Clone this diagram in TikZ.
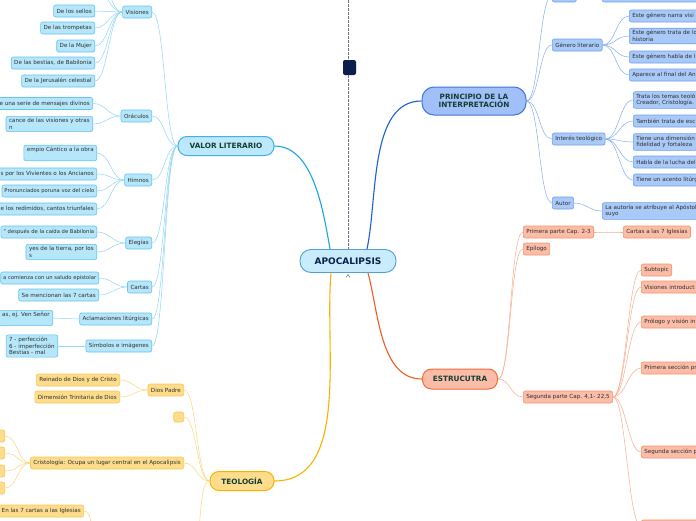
\documentclass[tikz,border=0pt]{standalone}
\usepackage{fontspec}
\setmainfont{DejaVu Sans}
\usetikzlibrary{calc}

\definecolor{vfill}{HTML}{B6E6FA}
\definecolor{vdraw}{HTML}{62C6EF}
\definecolor{vlinkc}{HTML}{92D7F4}
\definecolor{vmain}{HTML}{1CA4E6}
\definecolor{vtop}{HTML}{BDE8FB}
\definecolor{pfill}{HTML}{A9C9F8}
\definecolor{pdraw}{HTML}{6FA1EF}
\definecolor{plinkc}{HTML}{86AEF0}
\definecolor{pmain}{HTML}{1C60D2}
\definecolor{efill}{HTML}{FBBDA7}
\definecolor{edraw}{HTML}{F7926F}
\definecolor{elinkc}{HTML}{F9AC90}
\definecolor{emain}{HTML}{F25A26}
\definecolor{tfill}{HTML}{FDDC8C}
\definecolor{tdraw}{HTML}{F9C75A}
\definecolor{tlinkc}{HTML}{FBD57E}
\definecolor{tmain}{HTML}{F9B200}
\definecolor{topictext}{HTML}{123F31}
\definecolor{rootfill}{HTML}{C8ECFB}
\definecolor{rootdraw}{HTML}{4F9FD9}
\definecolor{roottext}{HTML}{0C1F4B}
\definecolor{leaftext}{HTML}{2E2E2E}
\definecolor{guide}{HTML}{6A7490}

\begin{document}
\begin{tikzpicture}[x=1pt, y=-1pt,
  leaf/.style={rounded corners=2pt, line width=0.6pt, font=\fontsize{5.6}{6.6}\selectfont,
    text=leaftext, inner xsep=3pt, inner ysep=2.2pt, minimum height=12pt, align=left},
  tight/.style={font=\fontsize{5.25}{6.4}\selectfont, inner xsep=2.5pt},
  vleaf/.style={leaf, fill=vfill, draw=vdraw},
  pleaf/.style={leaf, fill=pfill, draw=pdraw},
  eleaf/.style={leaf, fill=efill, draw=edraw},
  tleaf/.style={leaf, fill=tfill, draw=tdraw},
  topic/.style={rounded corners=9pt, line width=1pt, font=\fontsize{7.3}{8.4}\selectfont\bfseries,
    text=topictext, inner xsep=6pt, minimum height=19pt, align=center},
  root/.style={rounded corners=11pt, line width=0.9pt, fill=rootfill, draw=rootdraw,
    font=\fontsize{9}{10}\selectfont\bfseries, text=roottext, minimum width=96pt, minimum height=23pt},
  lleft/.style={line width=0.5pt, out=180, in=0, distance=13pt},
  lright/.style={line width=0.5pt, out=0, in=180, distance=13pt},
  vlink/.style={lleft, draw=vlinkc},
  plink/.style={lright, draw=plinkc},
  elink/.style={lright, draw=elinkc},
  tlink/.style={lleft, draw=tlinkc},
  mainlink/.style={line width=1.1pt}
]

\useasboundingbox (0,0) rectangle (696,520);
\fill[white] (0,0) rectangle (696,520);

% === ROOT ===
\node[root] (apo) at (348,261) {APOCALIPSIS};
\node[fill=roottext, rounded corners=2pt, minimum width=13pt, minimum height=15pt, inner sep=0pt] (pin) at (349.5,67.5) {};
\coordinate (top) at (348,0);
\draw[guide, line width=0.6pt, dash pattern=on 2.5pt off 1.5pt] (top) -- (top |- pin.north);
\draw[guide, line width=0.6pt, dash pattern=on 2.5pt off 1.5pt] (top |- pin.south) -- (top |- apo.north);
\draw[guide, line width=0.5pt] ($(apo.south)+(-2,4.5)$) -- ($(apo.south)+(0,1.5)$) -- ($(apo.south)+(2,4.5)$);

% === MAIN TOPICS ===
\node[topic, fill=vtop, draw=vmain!85, minimum width=96pt] (val) at (226,146) {VALOR LITERARIO};
\node[topic, fill=pfill!95!blue, draw=pmain!85, minimum width=104pt, minimum height=28pt, rounded corners=12pt] (pri) at (474,101) {PRINCIPIO DE LA\\INTERPRETACIÓN};
\node[topic, fill=efill, draw=emain!90, minimum width=75pt, minimum height=20pt] (est) at (460,379) {ESTRUCUTRA};
\node[topic, fill=tfill, draw=tmain, minimum width=64pt] (teo) at (242,481) {TEOLOGÍA};

\draw[mainlink, vmain] ($(apo.north)+(-18,0)$) to[out=100,in=0,looseness=0.85] (val.east);
\draw[mainlink, pmain] ($(apo.north)+(19,0)$) to[out=78,in=180,looseness=0.85] (pri.west);
\draw[mainlink, emain] ($(apo.south)+(20,0)$) to[out=-75,in=180,looseness=0.9] (est.west);
\draw[mainlink, tmain] ($(apo.south)+(-17,0)$) to[out=-95,in=0,looseness=0.9] (teo.east);

% === VALOR LITERARIO ===
\foreach \n/\y/\t in {vis/12/Visiones, ora/116/Oráculos, him/180/Himnos, ele/243/Elegías,
    car/287/Cartas, acl/319/Aclamaciones litúrgicas, sim/346/Símbolos e imágenes} {
  \node[vleaf, anchor=east] (\n) at (152,\y) {\t};
  \draw[vlink] (val.west) to (\n.east);
}
% Visiones
\coordinate (vs0) at (95,-10);
\coordinate (vsx) at (95,-28);
\draw[vlink] (vis.west) to (vs0);
\draw[vlink] (vis.west) to (vsx);
\foreach \n/\y/\t in {vs1/11/De los sellos, vs2/28/De las trompetas, vs3/46/De la Mujer,
    vs4/63/{De las bestias, de Babilonia}, vs5/81/De la Jerusalén celestial} {
  \node[vleaf, anchor=east] (\n) at (95,\y) {\t};
  \draw[vlink] (vis.west) to (\n.east);
}
% Oraculos
\node[vleaf, anchor=east] (or1) at (93,103.5) {e una serie de mensajes divinos};
\node[vleaf, anchor=east] (or2) at (93,124) {cance de las visiones y otras\\n};
\draw[vlink] (ora.west) to (or1.east);
\draw[vlink] (ora.west) to (or2.east);
% Himnos
\node[vleaf, anchor=east] (hi1) at (97,153) {empio Cántico a la obra\\\mbox{}};
\node[vleaf, anchor=east] (hi2) at (97,174) {s por los Vivientes o los Ancianos};
\node[vleaf, tight, anchor=east] (hi3) at (97,191) {Pronunciados poruna voz del cielo};
\node[vleaf, anchor=east] (hi4) at (97,209) {e los redimidos, cantos triunfales};
\foreach \n in {hi1,hi2,hi3,hi4} {\draw[vlink] (him.west) to (\n.east);}
% Elegias
\node[vleaf, tight, anchor=east] (el1) at (97,232) {” después de la caída de Babilonia};
\node[vleaf, anchor=east] (el2) at (97,252) {yes de la tierra, por los\\s};
\draw[vlink] (ele.west) to (el1.east);
\draw[vlink] (ele.west) to (el2.east);
% Cartas
\node[vleaf, tight, anchor=east] (ca1) at (99,278) {a comienza con un saludo epistolar};
\node[vleaf, anchor=east] (ca2) at (99,295) {Se mencionan las 7 cartas};
\draw[vlink] (car.west) to (ca1.east);
\draw[vlink] (car.west) to (ca2.east);
% Aclamaciones y simbolos
\node[vleaf, anchor=east] (ac1) at (53,318) {as, ej. Ven Señor\\\mbox{}};
\node[vleaf, anchor=east] (si1) at (58,346) {7 - perfección\\6 - imperfección\\Bestias - mal};
\draw[vlink] (acl.west) to (ac1.east);
\draw[vlink] (sim.west) to (si1.east);

% === PRINCIPIO DE LA INTERPRETACION ===
\node[pleaf, anchor=west, minimum width=24pt] (pt0) at (552,-4) {};
\node[pleaf, anchor=west, minimum width=110pt] (pt0b) at (602,-4) {};
\draw[plink] (pt0.east) to (pt0b.west);
\foreach \n/\y/\t in {pt1/45/Género literario, pt2/139/Interés teológico, pt3/203/Autor} {
  \node[pleaf, anchor=west] (\n) at (552,\y) {\t};
}
\foreach \n in {pt0,pt1,pt2,pt3} {\draw[plink] (pri.east) to (\n.west);}
% Genero literario
\foreach \n/\y/\t in {ge1/16/Este género narra visi, ge2/36/Este género trata de lo\\historia,
    ge3/57/Este género habla de l, ge4/75/Aparece al final del An} {
  \node[pleaf, anchor=west, text width=80pt] (\n) at (629,\y) {\t};
  \draw[plink] (pt1.east) to (\n.west);
}
% Interes teologico
\foreach \n/\y/\t in {in1/100/{Trata los temas teoló\\Creador, Cristología.}, in2/121/También trata de esc,
    in3/142/Tiene una dimensión\\fidelidad y fortaleza, in4/162/Habla de la lucha del, in5/180/Tiene un acento litúrg} {
  \node[pleaf, anchor=west, text width=80pt] (\n) at (633,\y) {\t};
  \draw[plink] (pt2.east) to (\n.west);
}
% Autor
\node[pleaf, anchor=west, text width=100pt] (au1) at (602,211) {La autoría se atribuye al Apóstol\\suyo};
\draw[plink] (pt3.east) to (au1.west);

% === ESTRUCUTRA ===
\node[eleaf, anchor=west] (es1) at (523,232) {Primera parte Cap. 2-3};
\node[eleaf, anchor=west] (es2) at (523,249) {Epílogo};
\node[eleaf, anchor=west] (es3) at (523,397) {Segunda parte Cap. 4,1- 22,5};
\foreach \n in {es1,es2,es3} {\draw[elink] (est.east) to (\n.west);}
\node[eleaf, anchor=west] (es1a) at (623,232) {Cartas a las 7 Iglesias};
\draw[elink] (es1.east) to (es1a.west);
% Segunda parte
\node[eleaf, anchor=west] (sg1) at (641,270) {Subtopic};
\foreach \n/\y/\t in {sg2/287/Visiones introduct, sg3/322/Prólogo y visión in, sg4/368/Primera sección pr,
    sg5/452/Segunda sección p, sg6/526/} {
  \node[eleaf, anchor=west, text width=70pt] (\n) at (641,\y) {\t};
}
\foreach \n in {sg1,sg2,sg3,sg4,sg5,sg6} {\draw[elink] (es3.east) to (\n.west);}

% === TEOLOGIA ===
\node[tleaf, anchor=east] (dio) at (184,390) {Dios Padre};
\node[tleaf, anchor=east, minimum width=10pt, minimum height=10pt, inner sep=0pt] (emp) at (184,417) {};
\node[tleaf, anchor=east] (cri) at (184,463) {Cristología: Ocupa un lugar central en el Apocalipsis};
\coordinate (tq) at (190,560);
\foreach \n in {dio,emp,cri} {\draw[tlink] (teo.west) to (\n.east);}
\draw[tlink] (teo.west) to (tq);
% Dios Padre
\node[tleaf, anchor=east] (dp1) at (120,380) {Reinado de Dios y de Cristo};
\node[tleaf, anchor=east] (dp2) at (120,397) {Dimensión Trinitaria de Dios};
\draw[tlink] (dio.west) to (dp1.east);
\draw[tlink] (dio.west) to (dp2.east);
% Cristologia
\foreach \n/\y in {cr1/436, cr2/453, cr3/471, cr4/488} {
  \node[tleaf, anchor=east, minimum width=30pt] (\n) at (5,\y) {};
  \draw[tlink] (cri.west) to (\n.east);
}
% bajo el borde
\coordinate (tqw) at (100,560);
\node[tleaf, anchor=east] (ig1) at (84,511) {En las 7 cartas a las Iglesias};
\draw[tlink] (tqw) to (ig1.east);

\end{tikzpicture}
\end{document}
